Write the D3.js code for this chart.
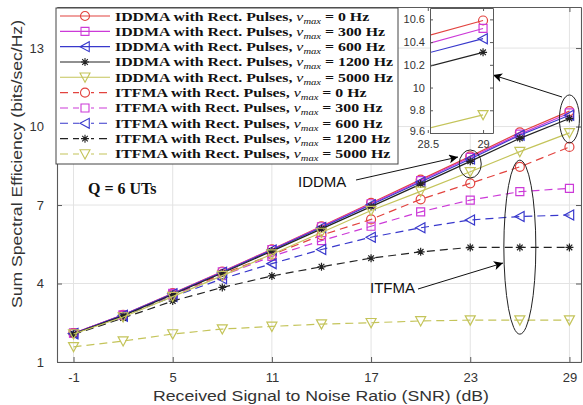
<!DOCTYPE html>
<html>
<head>
<meta charset="utf-8">
<script src="https://cdn.jsdelivr.net/npm/d3@7"></script>
<style>
  html, body { margin: 0; padding: 0; background: #fff; }
  svg { display: block; }
</style>
</head>
<body>
<svg id="chart" width="583" height="405"></svg>
<script>
// ---------------- data ----------------
const snrDb = [-1, 2, 5, 8, 11, 14, 17, 20, 23, 26, 29];
const xTicks = [-1, 5, 11, 17, 23, 29];
const yTicks = [1, 4, 7, 10, 13];
const insetXTicks = [28.5, 29];
const insetYTicks = [9.6, 9.8, 10, 10.2, 10.4, 10.6];
const dopplerHz = [0, 300, 600, 1200, 5000];

const iddma0    = [2.10, 2.80, 3.63, 4.46, 5.31, 6.19, 7.08, 7.97, 8.86, 9.78, 10.59];
const iddma300  = [2.10, 2.80, 3.62, 4.45, 5.30, 6.17, 7.05, 7.93, 8.82, 9.71, 10.52];
const iddma600  = [2.09, 2.79, 3.61, 4.43, 5.28, 6.14, 7.01, 7.88, 8.76, 9.67, 10.43];
const iddma1200 = [2.08, 2.77, 3.58, 4.40, 5.24, 6.09, 6.94, 7.80, 8.67, 9.55, 10.31];
const iddma5000 = [2.07, 2.72, 3.50, 4.30, 5.12, 5.95, 6.79, 7.52, 8.27, 9.04, 9.76];

const itfma0    = [2.10, 2.78, 3.58, 4.36, 5.10, 5.85, 6.45, 7.22, 7.83, 8.46, 9.22];
const itfma300  = [2.10, 2.78, 3.56, 4.30, 5.04, 5.64, 6.19, 6.74, 7.19, 7.51, 7.64];
const itfma600  = [2.08, 2.75, 3.50, 4.18, 4.76, 5.30, 5.77, 6.13, 6.43, 6.56, 6.62];
const itfma1200 = [2.05, 2.68, 3.33, 3.85, 4.29, 4.64, 4.97, 5.21, 5.38, 5.38, 5.38];
const itfma5000 = [1.58, 1.80, 2.07, 2.26, 2.36, 2.45, 2.50, 2.57, 2.60, 2.60, 2.60];

const colors = ["#e2433f", "#cc3ad8", "#3838cc", "#222222", "#c4c45a"];

// ---------------- symbols ----------------
const symCircle = {draw(c, s){ const r = Math.sqrt(s)/2; c.moveTo(r,0); c.arc(0,0,r,0,2*Math.PI); }};
const symSquare = {draw(c, s){ const r = Math.sqrt(s)/2; c.rect(-r,-r,2*r,2*r); }};
const symTriLeft = {draw(c, s){ const r = Math.sqrt(s)/2; c.moveTo(-r,0); c.lineTo(r*0.85,-r); c.lineTo(r*0.85,r); c.closePath(); }};
const symStar = {draw(c, s){ const r = Math.sqrt(s)/2, d = r*0.7071;
  c.moveTo(-r,0); c.lineTo(r,0); c.moveTo(0,-r); c.lineTo(0,r);
  c.moveTo(-d,-d); c.lineTo(d,d); c.moveTo(-d,d); c.lineTo(d,-d); }};
const symTriDown = {draw(c, s){ const r = Math.sqrt(s)/2; c.moveTo(0,r); c.lineTo(-r,-r*0.85); c.lineTo(r,-r*0.85); c.closePath(); }};
const symbols = [symCircle, symSquare, symTriLeft, symStar, symTriDown];
const symSizes = [81, 64, 100, 64, 100];

const iddmaSeries = [iddma0, iddma300, iddma600, iddma1200, iddma5000];
const itfmaSeries = [itfma0, itfma300, itfma600, itfma1200, itfma5000];
const series = [];
iddmaSeries.forEach((v, i) => series.push({scheme: "IDDMA", hz: dopplerHz[i], values: v, color: colors[i], sym: symbols[i], size: symSizes[i], dashed: false}));
itfmaSeries.forEach((v, i) => series.push({scheme: "ITFMA", hz: dopplerHz[i], values: v, color: colors[i], sym: symbols[i], size: symSizes[i], dashed: true}));

// ---------------- layout ----------------
const svg = d3.select("#chart");
const L = 57, R = 581, T = 7, B = 362;
const x = d3.scaleLinear().domain([-2, 29.7]).range([L, R]);
const y = d3.scaleLinear().domain([1, 14.57]).range([B, T]);
const axisColor = "#5a5a5a";
const gridColor = "#e3e3e3";
const sans = "'Liberation Sans', Arial, Helvetica, sans-serif";
const serif = "'Liberation Serif', 'Times New Roman', serif";
const dash = "8,5";

const defs = svg.append("defs");
defs.append("clipPath").attr("id", "plotClip").append("rect")
  .attr("x", L).attr("y", T).attr("width", R - L).attr("height", B - T);
defs.append("marker").attr("id", "arrow").attr("viewBox", "0 0 10 10")
  .attr("refX", 10).attr("refY", 5).attr("markerWidth", 12).attr("markerHeight", 9)
  .attr("markerUnits", "userSpaceOnUse").attr("orient", "auto")
  .append("path").attr("d", "M0,0 L10,5 L0,10 L2.5,5 Z").attr("fill", "#000");

// grid
const grid = svg.append("g");
grid.selectAll("line.gx").data(xTicks).join("line")
  .attr("x1", d => x(d)).attr("x2", d => x(d)).attr("y1", T).attr("y2", B)
  .attr("stroke", gridColor).attr("stroke-width", 1);
grid.selectAll("line.gy").data(yTicks).join("line")
  .attr("y1", d => y(d)).attr("y2", d => y(d)).attr("x1", L).attr("x2", R)
  .attr("stroke", gridColor).attr("stroke-width", 1);

// axes
const fmt = d => String(d);
const gx = svg.append("g").attr("transform", `translate(0,${B})`)
  .call(d3.axisBottom(x).tickValues(xTicks).tickFormat(fmt).tickSize(-5).tickPadding(11).tickSizeOuter(0));
const gy = svg.append("g").attr("transform", `translate(${L},0)`)
  .call(d3.axisLeft(y).tickValues(yTicks).tickFormat(fmt).tickSize(-5).tickPadding(13).tickSizeOuter(0));
const gxt = svg.append("g").attr("transform", `translate(0,${T})`)
  .call(d3.axisTop(x).tickValues(xTicks).tickFormat("").tickSize(-5).tickSizeOuter(0));
const gyr = svg.append("g").attr("transform", `translate(${R},0)`)
  .call(d3.axisRight(y).tickValues(yTicks).tickFormat("").tickSize(-5).tickSizeOuter(0));
[gx, gy, gxt, gyr].forEach(g => {
  g.selectAll("path.domain").attr("stroke", axisColor).attr("stroke-width", 1.1);
  g.selectAll(".tick line").attr("stroke", axisColor);
  g.selectAll(".tick text").attr("fill", "#333").style("font-family", sans).style("font-size", "13px");
});

// series
const plot = svg.append("g").attr("clip-path", "url(#plotClip)");
const drawSeries = (g, s, xs, ys) => {
  const ln = d3.line().x((d, i) => xs(snrDb[i])).y(d => ys(d));
  g.append("path").datum(s.values).attr("d", ln)
    .attr("fill", "none").attr("stroke", s.color).attr("stroke-width", 1.2)
    .attr("stroke-dasharray", s.dashed ? dash : null);
  g.append("g").selectAll("path").data(s.values).join("path")
    .attr("transform", (d, i) => `translate(${xs(snrDb[i])},${ys(d)})`)
    .attr("d", d3.symbol().type(s.sym).size(s.size))
    .attr("fill", "none").attr("stroke", s.color).attr("stroke-width", 1.2);
};
// draw in legend order (later series on top), dashed ITFMA below solid IDDMA
series.slice(5).forEach(s => drawSeries(plot, s, x, y));
series.slice(0, 5).forEach(s => drawSeries(plot, s, x, y));

// axis labels
const fitText = (sel, target) => {
  sel.attr("textLength", target).attr("lengthAdjust", "spacingAndGlyphs");
};
const xl = svg.append("text").attr("x", 321).attr("y", 401).attr("text-anchor", "middle")
  .style("font-family", sans).style("font-size", "14px").attr("fill", "#333")
  .text("Received Signal to Noise Ratio (SNR) (dB)");
fitText(xl, 336);
const yl = svg.append("text").attr("transform", "translate(22,164) rotate(-90)").attr("text-anchor", "middle")
  .style("font-family", sans).style("font-size", "14px").attr("fill", "#333")
  .text("Sum Spectral Efficiency (bits/sec/Hz)");
fitText(yl, 288);

// legend
const lg = svg.append("g");
const lgX = 56, lgY = 8, lgW = 342, lgH = 156, rowH = 15.33;
lg.append("rect").attr("x", lgX).attr("y", lgY).attr("width", lgW).attr("height", lgH)
  .attr("fill", "#fff").attr("stroke", "#444").attr("stroke-width", 1);
const texts = [];
series.forEach((s, i) => {
  const cy = lgY + 8 + i * rowH;
  lg.append("line").attr("x1", 60).attr("x2", 110).attr("y1", cy).attr("y2", cy)
    .attr("stroke", s.color).attr("stroke-width", 1.1).attr("stroke-dasharray", s.dashed ? dash : null);
  if (s.dashed) {
    lg.append("rect").attr("x", 79).attr("y", cy - 5).attr("width", 12).attr("height", 10).attr("fill", "#fff");
  }
  lg.append("path").attr("transform", `translate(85,${cy})`)
    .attr("d", d3.symbol().type(s.sym).size(s.size))
    .attr("fill", "none").attr("stroke", s.color).attr("stroke-width", 1.1);
  const t = lg.append("text").attr("x", 115).attr("y", cy + 4.5)
    .style("font-family", serif).style("font-size", "13.5px").style("font-weight", "bold").attr("fill", "#111");
  t.append("tspan").text(`${s.scheme} with Rect. Pulses, `);
  t.append("tspan").style("font-style", "italic").style("font-weight", "normal").text("ν");
  t.append("tspan").style("font-style", "italic").style("font-weight", "normal").style("font-size", "9px").attr("dy", 3).text("max");
  t.append("tspan").attr("dy", -3).text(` = ${s.hz} Hz`);
  texts.push(t);
});
const maxW = d3.max(texts, t => t.node().getComputedTextLength());
const k = 278 / maxW;
texts.forEach(t => {
  const w = t.node().getComputedTextLength();
  t.attr("textLength", w * k).attr("lengthAdjust", "spacingAndGlyphs");
});

// Q = 6 UTs
svg.append("text").attr("x", 88).attr("y", 194)
  .style("font-family", serif).style("font-size", "16px").style("font-weight", "bold").attr("fill", "#111")
  .text("Q = 6 UTs");

// annotations
const ann = svg.append("g");
ann.append("ellipse").attr("cx", x(23)).attr("cy", y(8.57)).attr("rx", 11).attr("ry", 14)
  .attr("fill", "none").attr("stroke", "#222").attr("stroke-width", 1);
ann.append("ellipse").attr("cx", x(29)).attr("cy", y(10.29)).attr("rx", 10).attr("ry", 24)
  .attr("fill", "none").attr("stroke", "#222").attr("stroke-width", 1);
ann.append("ellipse").attr("cx", x(26)).attr("cy", y(5.39)).attr("rx", 16).attr("ry", 87)
  .attr("fill", "none").attr("stroke", "#222").attr("stroke-width", 1);
ann.append("text").attr("x", 298).attr("y", 187).style("font-family", sans).style("font-size", "15px").attr("fill", "#111").text("IDDMA");
ann.append("line").attr("x1", 356).attr("y1", 180).attr("x2", 458).attr("y2", 157)
  .attr("stroke", "#111").attr("stroke-width", 1).attr("marker-end", "url(#arrow)");
ann.append("text").attr("x", 370).attr("y", 293).style("font-family", sans).style("font-size", "15px").attr("fill", "#111").text("ITFMA");
ann.append("line").attr("x1", 418).attr("y1", 289).attr("x2", 503).attr("y2", 263)
  .attr("stroke", "#111").attr("stroke-width", 1).attr("marker-end", "url(#arrow)");
ann.append("line").attr("x1", 562).attr("y1", 97).attr("x2", 493).attr("y2", 75)
  .attr("stroke", "#111").attr("stroke-width", 1).attr("marker-end", "url(#arrow)");

// inset
const IL = 430, IR = 493, IT = 8, IB = 133;
const xi = d3.scaleLinear().domain([28.52, 29.09]).range([IL, IR]);
const yi = d3.scaleLinear().domain([9.6, 10.7]).range([IB, IT]);
const inset = svg.append("g");
inset.append("rect").attr("x", IL).attr("y", IT).attr("width", IR - IL).attr("height", IB - IT).attr("fill", "#fff");
defs.append("clipPath").attr("id", "insetClip").append("rect")
  .attr("x", IL).attr("y", IT).attr("width", IR - IL).attr("height", IB - IT);
const insetPlot = inset.append("g").attr("clip-path", "url(#insetClip)");
series.slice(5).forEach(s => drawSeries(insetPlot, s, xi, yi));
series.slice(0, 5).forEach(s => drawSeries(insetPlot, s, xi, yi));
const ix = inset.append("g").attr("transform", `translate(0,${IB})`)
  .call(d3.axisBottom(xi).tickValues(insetXTicks).tickFormat(fmt).tickSize(-3).tickPadding(7).tickSizeOuter(0));
const iy = inset.append("g").attr("transform", `translate(${IL},0)`)
  .call(d3.axisLeft(yi).tickValues(insetYTicks).tickFormat(fmt).tickSize(-3).tickPadding(5).tickSizeOuter(0));
const ixt = inset.append("g").attr("transform", `translate(0,${IT})`)
  .call(d3.axisTop(xi).tickValues(insetXTicks).tickFormat("").tickSize(-3).tickSizeOuter(0));
const iyr = inset.append("g").attr("transform", `translate(${IR},0)`)
  .call(d3.axisRight(yi).tickValues(insetYTicks).tickFormat("").tickSize(-3).tickSizeOuter(0));
[ix, iy, ixt, iyr].forEach(g => {
  g.selectAll("path.domain").attr("stroke", axisColor).attr("stroke-width", 1);
  g.selectAll(".tick line").attr("stroke", axisColor);
  g.selectAll(".tick text").attr("fill", "#333").style("font-family", sans).style("font-size", "11px");
});
// nudge the lowest inset y label up slightly so it clears the x tick label
iy.selectAll(".tick text").filter(d => d === 9.6).attr("dy", "0.1em");
</script>
</body>
</html>
